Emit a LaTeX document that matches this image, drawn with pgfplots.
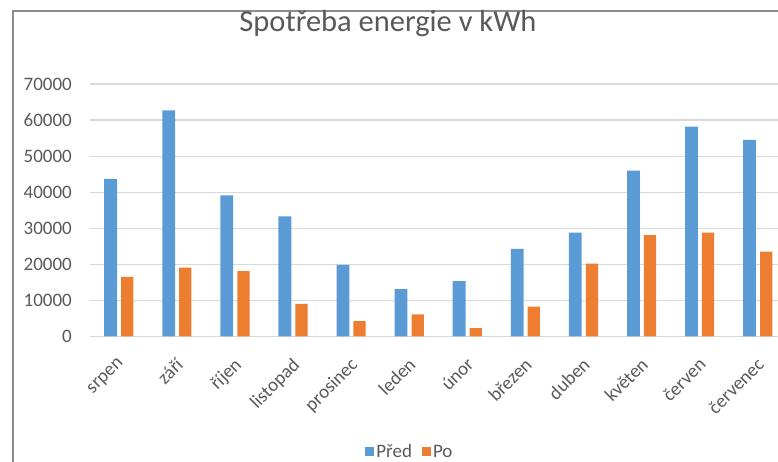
\documentclass[border=0pt]{standalone}
\usepackage{pgfplots}
\pgfplotsset{compat=1.18}
\usepackage{fontspec}
\setmainfont{Carlito}
\definecolor{cblue}{HTML}{5B9BD5}
\definecolor{corange}{HTML}{ED7D31}
\definecolor{cgrid}{HTML}{D9D9D9}
\definecolor{ctext}{HTML}{595959}
\definecolor{cframe}{HTML}{8C8C8C}
\begin{document}
\begin{tikzpicture}[x=1pt,y=1pt]
\useasboundingbox (0,0) rectangle (778,462);
\clip (0,0) rectangle (778,462);
\draw[cframe, line width=1.5pt] (13,-5) -- (13,451) -- (790,451);
\begin{axis}[
  at={(90pt,125.5pt)}, anchor=south west,
  scale only axis, width=697pt, height=252.5pt,
  xmin=-0.5, xmax=11.5, ymin=0, ymax=70000,
  scaled y ticks=false,
  axis line style={draw=none},
  major tick length=0pt,
  ymajorgrids, grid style={cgrid, line width=1.2pt},
  ytick={0,10000,20000,30000,40000,50000,60000,70000},
  yticklabels={0,10000,20000,30000,40000,50000,60000,70000},
  xtick={0,1,2,3,4,5,6,7,8,9,10,11},
  xticklabels={srpen,září,říjen,listopad,prosinec,leden,únor,březen,duben,květen,červen,červenec},
  tick label style={text=ctext, font=\fontsize{19}{22}\selectfont},
  yticklabel style={inner sep=2pt, xshift=-16pt},
  xticklabel style={xshift=-2pt, yshift=-20pt, rotate=45, anchor=north east, inner sep=0pt},
  title={Spotřeba energie v kWh},
  title style={at={(axis description cs:0.4275,1.185)}, anchor=base, text=ctext, font=\fontsize{30.5}{36}\selectfont, inner sep=0pt},
  legend style={at={(axis description cs:0.459,-0.457)}, anchor=center, draw=none, fill=none,
    legend columns=2, font=\fontsize{19}{22}\selectfont, text=ctext,
    /tikz/every even column/.append style={column sep=8pt}},
  legend image code/.code={\fill[#1] (0pt,-4pt) rectangle (9pt,5pt);},
  legend cell align=left,
]
\addplot[ybar, bar width=12.8pt, bar shift=-8.4pt, fill=cblue, draw=none] coordinates {
 (0,43700) (1,62700) (2,39150) (3,33300) (4,19850) (5,13100)
 (6,15330) (7,24300) (8,28800) (9,46000) (10,58200) (11,54500)};
\addplot[ybar, bar width=12.3pt, bar shift=8.2pt, fill=corange, draw=none] coordinates {
 (0,16530) (1,19100) (2,18100) (3,9050) (4,4250) (5,6100)
 (6,2300) (7,8300) (8,20200) (9,28070) (10,28800) (11,23550)};
\legend{Před,Po}
\end{axis}
\end{tikzpicture}
\end{document}
